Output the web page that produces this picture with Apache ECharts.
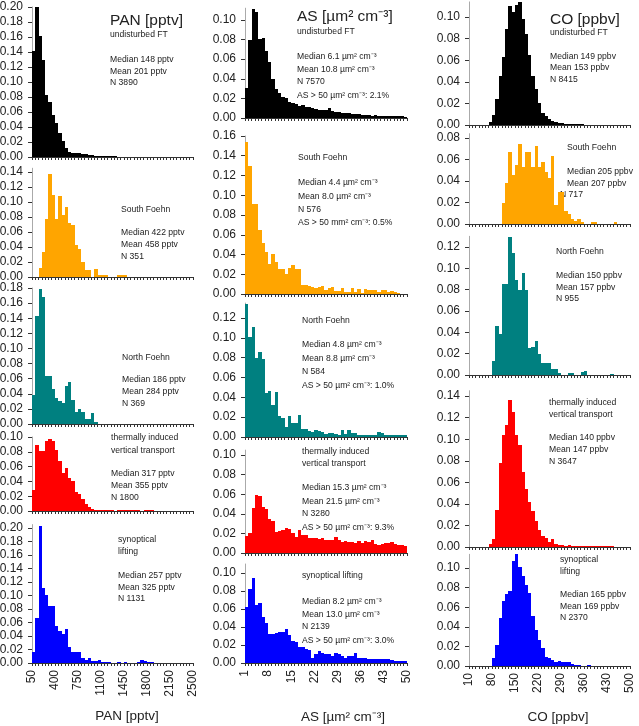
<!DOCTYPE html>
<html>
<head>
<meta charset="utf-8">
<script src="https://cdn.jsdelivr.net/npm/echarts@6/dist/echarts.min.js"></script>
<style>
html, body { margin: 0; padding: 0; background: #fff; }
#main { width: 639px; height: 726px; }
</style>
</head>
<body>
<div id="main"></div>
<script>
// relative frequency per bin, 49 bins per histogram
var panFT      = [0.142,0.200,0.161,0.129,0.083,0.074,0.056,0.045,0.032,0.022, 0.012,0.007,0.006,0.006,0.005,0.004,0.004,0.003,0.003,0.002, 0.002,0.002,0.001,0.001,0.0005,0.0005,0,0,0,0, 0,0,0,0,0,0,0,0,0,0, 0,0,0,0,0,0,0,0,0];
var panSouth   = [0,0,0.012,0.034,0.078,0.137,0.110,0.077,0.108,0.083, 0.094,0.072,0.070,0.043,0.037,0.020,0.009,0.009,0,0.011, 0.003,0.003,0.003,0,0,0,0.003,0.003,0.003,0, 0,0,0,0,0,0,0,0,0,0, 0,0,0,0,0,0,0,0,0];
var panNorth   = [0.038,0.143,0.179,0.168,0.063,0.063,0.046,0.034,0.031,0.028, 0.050,0.055,0.032,0.016,0.020,0.016,0.006,0.006,0.014,0.003, 0,0,0,0,0,0,0,0,0,0, 0,0,0,0,0,0,0,0,0,0, 0,0,0,0,0,0,0,0,0];
var panThermal = [0.029,0.089,0.081,0.081,0.095,0.097,0.095,0.083,0.068,0.052, 0.058,0.045,0.040,0.026,0.023,0.016,0.009,0.006,0.003,0.002, 0.002,0.002,0.001,0.001,0.0015,0,0.001,0.001,0.0015,0.001, 0.001,0.0015,0.001,0,0.001,0.0015,0.001,0,0,0, 0,0,0,0,0,0,0,0,0];
var panSynoptic= [0.017,0.067,0.203,0.111,0.100,0.085,0.085,0.055,0.047,0.043, 0.050,0.024,0.016,0.017,0.017,0.008,0.005,0.008,0.003,0.003, 0.005,0.001,0.001,0.001,0,0,0.001,0,0.002,0, 0,0,0.002,0.004,0.003,0.002,0.001,0,0,0, 0,0,0,0,0,0,0,0,0];

var asFT       = [0.031,0.080,0.111,0.108,0.081,0.082,0.068,0.057,0.040,0.030, 0.025,0.021,0.020,0.016,0.015,0.014,0.012,0.013,0.011,0.011, 0.010,0.009,0.008,0.008,0.008,0.010,0.007,0.006,0.006,0.005, 0.005,0.005,0.004,0.004,0.004,0.003,0.003,0.003,0.002,0.003, 0.002,0.002,0.002,0.002,0.002,0.002,0.002,0.002,0.001];
var asSouth    = [0.154,0.130,0.091,0.091,0.065,0.052,0.043,0.030,0.041,0.032, 0.025,0.025,0.020,0.026,0.029,0.025,0.025,0.009,0.009,0.008, 0.007,0.006,0.007,0.008,0.004,0.006,0.007,0.003,0.003,0.006, 0.002,0.002,0.006,0.002,0.005,0.001,0.005,0.004,0.004,0.004, 0.002,0.004,0.004,0.002,0.003,0.002,0.001,0,0];
var asNorth    = [0.134,0.101,0.111,0.080,0.086,0.079,0.044,0.046,0.032,0.045, 0.021,0.019,0.010,0.021,0.014,0.014,0.022,0.008,0.008,0.006, 0.005,0.007,0.006,0.005,0.003,0.004,0.004,0.003,0.002,0.007, 0.003,0.007,0.004,0.004,0.002,0.002,0.002,0.002,0.002,0.002, 0.005,0.004,0.002,0.002,0.002,0.002,0.002,0.002,0.002];
var asThermal  = [0.017,0.020,0.046,0.059,0.058,0.047,0.045,0.035,0.033,0.021, 0.022,0.023,0.026,0.024,0.020,0.016,0.023,0.018,0.018,0.015, 0.015,0.015,0.014,0.015,0.013,0.013,0.013,0.016,0.013,0.011, 0.012,0.011,0.011,0.010,0.012,0.010,0.012,0.011,0.013,0.009, 0.008,0.009,0.010,0.010,0.011,0.009,0.008,0.008,0.007];
var asSynoptic = [0.062,0.082,0.095,0.064,0.067,0.051,0.044,0.032,0.032,0.033, 0.034,0.034,0.038,0.031,0.025,0.023,0.018,0.018,0.016,0.014, 0.006,0.010,0.013,0.011,0.010,0.010,0.008,0.011,0.010,0.008, 0.006,0.008,0.008,0.011,0.006,0.006,0.006,0.004,0.005,0.004, 0.004,0.005,0.004,0.004,0.003,0.002,0.002,0.002,0.002];

var coFT       = [0,0,0,0,0,0,0.003,0.009,0.024,0.045, 0.063,0.089,0.110,0.105,0.111,0.114,0.098,0.084,0.065,0.045, 0.033,0.020,0.011,0.008,0.006,0.004,0.003,0.002,0.002,0.001, 0.001,0.001,0.001,0.0005,0.0005,0,0,0,0,0, 0,0,0,0,0,0,0,0,0];
var coSouth    = [0,0,0,0,0,0,0,0,0,0, 0.020,0.038,0.067,0.046,0.055,0.074,0.053,0.067,0.067,0.053, 0.073,0.053,0.058,0.048,0.043,0.063,0.018,0.030,0.030,0.012, 0.009,0.005,0.003,0.005,0.002,0,0,0.002,0.002,0, 0,0,0,0,0.002,0,0,0,0];
var coNorth    = [0,0,0,0,0,0,0,0.013,0.046,0.038, 0.085,0.085,0.129,0.114,0.089,0.080,0.096,0.080,0.025,0.026, 0.032,0.020,0.011,0.011,0.011,0.006,0.006,0.002,0,0, 0.002,0.002,0,0,0.003,0.004,0,0,0,0, 0,0,0,0.001,0,0,0,0,0];
var coThermal  = [0,0,0,0,0,0,0.003,0.007,0.034,0.078, 0.104,0.113,0.136,0.125,0.104,0.095,0.070,0.054,0.042,0.033, 0.024,0.016,0.010,0.008,0.005,0.007,0.003,0.002,0.002,0.001, 0.002,0.001,0.001,0.0005,0.001,0.001,0.001,0.0005,0.001,0.0005, 0.001,0.0005,0.001,0.0005,0,0,0,0,0];
var coSynoptic = [0,0,0,0,0,0,0,0.008,0.021,0.049, 0.066,0.073,0.077,0.107,0.114,0.101,0.092,0.083,0.075,0.051, 0.037,0.027,0.018,0.009,0.008,0.006,0.004,0.005,0.004,0.004, 0.004,0.002,0.001,0.001,0,0,0.001,0,0,0, 0,0,0,0,0,0,0,0,0];

// x axis tick labels
var panTicks = [50, 400, 750, 1100, 1450, 1800, 2150, 2500];
var asTicks  = [1, 8, 15, 22, 29, 36, 43, 50];
var coTicks  = [10, 80, 150, 220, 290, 360, 430, 500];

var rowColors = ['#000000', '#FFA500', '#008080', '#FF0000', '#0000FF'];
var FONT = '"Liberation Sans", Arial, Helvetica, sans-serif';

var columns = [
  { left: 32,  width: 161, ticks: panTicks, data: [panFT, panSouth, panNorth, panThermal, panSynoptic] },
  { left: 245, width: 162, ticks: asTicks,  data: [asFT, asSouth, asNorth, asThermal, asSynoptic] },
  { left: 469, width: 161, ticks: coTicks,  data: [coFT, coSouth, coNorth, coThermal, coSynoptic] }
];
// [top, height, ymax] of each panel, per column
var boxes = [
  [[7, 150, 0.20], [168.25, 108.75, 0.145], [288, 136, 0.18], [437, 74, 0.10], [524.6, 138.4, 0.205]],
  [[8.2, 109.8, 0.112], [136, 158, 0.16], [303.1, 133.9, 0.135], [450.1, 102.9, 0.105], [564, 99, 0.11]],
  [[1.9, 123.1, 0.114], [133.7, 90.3, 0.084], [236.3, 138.7, 0.13], [390.7, 156.3, 0.145], [554.3, 111.7, 0.114]]
];

// one rectangle per bin, snapped to whole pixels so neighbours join without seams
function renderBin(params, api) {
  var h = api.value(2);
  if (!h) return;
  var a = api.coord([api.value(0), h]);
  var b = api.coord([api.value(1), 0]);
  var x0 = Math.round(a[0]), x1 = Math.round(b[0]);
  var y0 = Math.round(a[1]), y1 = b[1];
  if (y1 - y0 < 1) y0 = y1 - 1;
  return {
    type: 'rect',
    shape: { x: x0, y: y0, width: x1 - x0, height: y1 - y0 },
    style: { fill: api.visual('color'), stroke: null }
  };
}

var grids = [], xAxes = [], yAxes = [], series = [];
columns.forEach(function (col, c) {
  var xmin = col.ticks[0], xmax = col.ticks[col.ticks.length - 1];
  var n = col.data[0].length;
  var w = (xmax - xmin) / n;
  var edges = [];
  for (var k = 0; k <= n; k++) edges.push(xmin + k * w);

  col.data.forEach(function (vals, r) {
    var box = boxes[c][r];
    var idx = grids.length;
    grids.push({ left: col.left, width: col.width, top: box[0], height: box[1], outerBoundsMode: 'none' });

    var yv = [];
    for (var j = 0; j * 0.02 <= box[2] + 1e-9; j++) yv.push(Math.round(j * 2) / 100);

    xAxes.push({
      gridIndex: idx, type: 'value', min: xmin, max: xmax,
      axisLine: { show: true, onZero: false, lineStyle: { color: '#333', width: 1 } },
      axisTick: { show: true, customValues: edges, length: 3, lineStyle: { color: '#333' } },
      axisLabel: { show: r === 4, customValues: col.ticks, rotate: 90, margin: 7,
                   fontSize: 12, fontFamily: FONT, color: '#222',
                   formatter: function (v) { return String(v); } },
      splitLine: { show: false },
      z: 5
    });
    yAxes.push({
      gridIndex: idx, type: 'value', min: 0, max: box[2],
      axisLine: { show: true, lineStyle: { color: '#aaa', width: 1 } },
      axisTick: { show: true, customValues: yv, length: 4, lineStyle: { color: '#333' } },
      axisLabel: { customValues: yv, margin: 9, fontSize: 12, fontFamily: FONT, color: '#222',
                   formatter: function (v) { return v.toFixed(2); } },
      splitLine: { show: false }
    });
    series.push({
      type: 'custom', xAxisIndex: idx, yAxisIndex: idx,
      renderItem: renderBin, silent: true,
      itemStyle: { color: rowColors[r] },
      encode: { x: [0, 1], y: 2 },
      data: vals.map(function (v, k) { return [edges[k], edges[k + 1], v]; })
    });
  });
});

// text annotations: [x, y, text, size]
var notes = [
  [110, 21, 'PAN [pptv]', 15.5], [110, 35, 'undisturbed FT'],
  [110, 60, 'Median 148 pptv'], [110, 72, 'Mean 201 pptv'], [110, 83, 'N 3890'],
  [121, 210, 'South Foehn'], [121, 233, 'Median 422 pptv'], [121, 245, 'Mean 458 pptv'], [121, 257, 'N 351'],
  [122, 358, 'North Foehn'], [122, 380, 'Median 186 pptv'], [122, 392, 'Mean 284 pptv'], [122, 404, 'N 369'],
  [111, 438, 'thermally induced'], [111, 451, 'vertical transport'],
  [111, 474, 'Median 317 pptv'], [111, 486, 'Mean 355 pptv'], [111, 498, 'N 1800'],
  [118, 540, 'synoptical'], [118, 552, 'lifting'],
  [118, 576, 'Median 257 pptv'], [118, 588, 'Mean 325 pptv'], [118, 599, 'N 1131'],

  [297, 17, 'AS [µm² cm⁻³]', 15.5], [297, 32, 'undisturbed FT'],
  [297, 57, 'Median 6.1 µm² cm⁻³'], [297, 70, 'Mean 10.8 µm² cm⁻³'], [297, 82, 'N 7570'],
  [297, 96, 'AS > 50 µm² cm⁻³: 2.1%'],
  [298, 158, 'South Foehn'], [298, 183, 'Median 4.4 µm² cm⁻³'], [298, 197, 'Mean 8.0 µm² cm⁻³'],
  [298, 210, 'N 576'], [298, 223, 'AS > 50 mm² cm⁻³: 0.5%'],
  [302, 321, 'North Foehn'], [302, 345, 'Median 4.8 µm² cm⁻³'], [302, 359, 'Mean 8.8 µm² cm⁻³'],
  [302, 372, 'N 584'], [302, 386, 'AS > 50 µm² cm⁻³: 1.0%'],
  [302, 452, 'thermally induced'], [302, 464, 'vertical transport'],
  [302, 488, 'Median 15.3 µm² cm⁻³'], [302, 502, 'Mean 21.5 µm² cm⁻³'], [302, 514, 'N 3280'],
  [302, 528, 'AS > 50 µm² cm⁻³: 9.3%'],
  [302, 576, 'synoptical lifting'], [302, 602, 'Median 8.2 µm² cm⁻³'], [302, 615, 'Mean 13.0 µm² cm⁻³'],
  [302, 627, 'N 2139'], [302, 641, 'AS > 50 µm² cm⁻³: 3.0%'],

  [550, 20, 'CO [ppbv]', 15.5], [550, 33, 'undisturbed FT'],
  [550, 57, 'Median 149 ppbv'], [550, 68, 'Mean 153 ppbv'], [550, 80, 'N 8415'],
  [567, 148, 'South Foehn'], [567, 172, 'Median 205 ppbv'], [567, 184, 'Mean 207 ppbv'], [560, 195, 'N 717'],
  [556, 252, 'North Foehn'], [556, 276, 'Median 150 ppbv'], [556, 288, 'Mean 157 ppbv'], [556, 299, 'N 955'],
  [549, 403, 'thermally induced'], [549, 415, 'vertical transport'],
  [549, 438, 'Median 140 ppbv'], [549, 450, 'Mean 147 ppbv'], [549, 462, 'N 3647'],
  [560, 560, 'synoptical'], [560, 572, 'lifting'],
  [560, 595, 'Median 165 ppbv'], [560, 607, 'Mean 169 ppbv'], [560, 618, 'N 2370']
];
var axisNames = [[127, 716, 'PAN [pptv]'], [343, 717, 'AS [µm² cm⁻³]'], [558, 717, 'CO [ppbv]']];

var graphics = notes.map(function (t) {
  return { type: 'text', x: t[0], y: t[1], silent: true,
           style: { text: t[2], fill: '#222', font: (t[3] || 8.6) + 'px ' + FONT, verticalAlign: 'middle' } };
});
axisNames.forEach(function (t) {
  graphics.push({ type: 'text', x: t[0], y: t[1], silent: true,
                  style: { text: t[2], fill: '#222', font: '13.5px ' + FONT, align: 'center', verticalAlign: 'middle' } });
});

var chart = echarts.init(document.getElementById('main'));
chart.setOption({
  animation: false,
  backgroundColor: '#fff',
  grid: grids,
  xAxis: xAxes,
  yAxis: yAxes,
  series: series,
  graphic: graphics
});
</script>
</body>
</html>
